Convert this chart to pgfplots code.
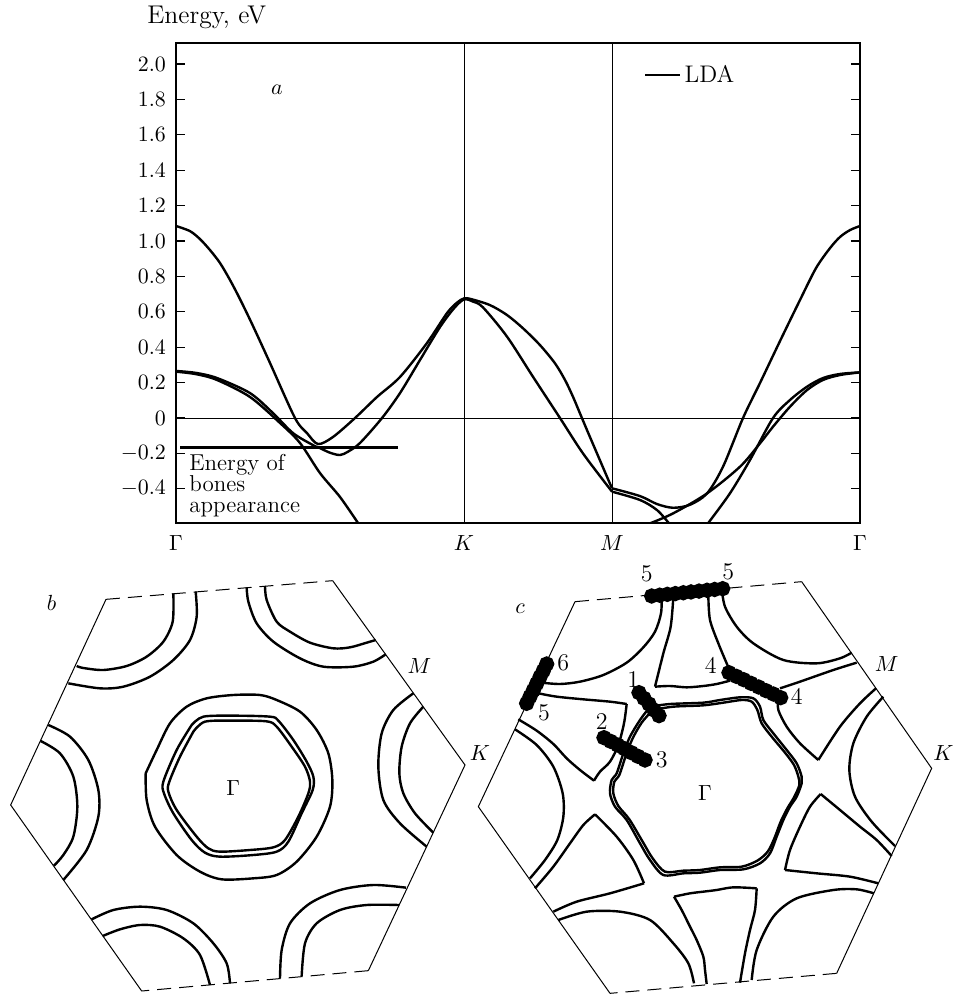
\documentclass[border=0pt]{standalone}
\usepackage{pgfplots}
\pgfplotsset{compat=1.18}
\pgfplotsset{
  band/.style={line width=1.2pt, smooth, tension=0.5, forget plot},
  fs/.style={line width=1.2pt, smooth, tension=0.5},
  hexs/.style={line width=0.5pt},
  hexd/.style={line width=0.5pt, dash pattern=on 7pt off 4pt},
  dots/.style={line width=2.6pt, mark=*, mark size=2.5pt},
}
\begin{document}
\begin{tikzpicture}
\path[use as bounding box] (0,0) rectangle (476.5pt,497pt);
\node[anchor=west, inner sep=0pt, font=\fontsize{12.8}{14}\selectfont] at (73.5pt,488.5pt) {Energy, eV};

% ---------------- band structure ----------------
\begin{axis}[
  scale only axis, width=342pt, height=240pt,
  at={(88pt,235.5pt)}, anchor=south west,
  xmin=0, xmax=684, ymin=-0.593, ymax=2.119,
  xtick={0,288,436,684}, xticklabels={$\Gamma$,$K$,$M$,$\Gamma$},
  x tick style={draw=none},
  tick label style={font=\fontsize{11}{13}\selectfont},
  xticklabel style={yshift=-2.5pt},
  ytick={-0.4,-0.2,0,0.2,0.4,0.6,0.8,1.0,1.2,1.4,1.6,1.8,2.0},
  yticklabels={$-0.4$,$-0.2$,$0$,$0.2$,$0.4$,$0.6$,$0.8$,$1.0$,$1.2$,$1.4$,$1.6$,$1.8$,$2.0$},
  yticklabel style={xshift=-1.5pt},
  axis line style={line width=0.55pt},
  every tick/.style={line width=0.55pt},
  legend style={draw=none, fill=none, at={(0.675,0.933)}, anchor=west, font=\fontsize{12}{14}\selectfont},
  legend cell align=left,
]
\addplot[line width=1.2pt, smooth, tension=0.5] coordinates {(0,1.085) (14,1.056) (24,1.011) (34,0.949) (44,0.876) (54,0.78) (64,0.672) (77,0.52) (94,0.311) (119,0) (131,-0.085) (142,-0.147) (157,-0.107) (179,0) (201,0.119) (224,0.232) (251,0.424) (271,0.593) (281,0.652) (288,0.676) (295,0.672) (314,0.638) (331,0.582) (347,0.507) (364,0.412) (379,0.309) (389,0.215) (397,0.12) (404,0.026) (411,-0.068) (421,-0.2) (431,-0.332) (436,-0.397)};
\addlegendentry{LDA}
\addplot[band] coordinates {(0,0.266) (20,0.255) (41,0.226) (74,0.141) (97,0.028) (117,-0.085) (137,-0.153) (144,-0.17) (154,-0.196) (164,-0.209) (172,-0.19) (184,-0.141) (206,0) (224,0.141) (244,0.328) (264,0.514) (278,0.62) (288,0.67) (297,0.658) (307,0.625) (331,0.46) (357,0.233) (384,0) (407,-0.2) (436,-0.416)};
\addplot[band] coordinates {(0,0.262) (20,0.248) (41,0.215) (74,0.119) (104,-0.028) (124,-0.141) (144,-0.311) (164,-0.446) (182,-0.593)};
\addplot[band] coordinates {(436,-0.397) (464,-0.441) (481,-0.486) (497,-0.507) (514,-0.49) (531,-0.426) (547,-0.275) (567,0) (584,0.198) (604,0.435) (624,0.667) (640,0.847) (654,0.96) (664,1.023) (674,1.062) (684,1.085)};
\addplot[band] coordinates {(474,-0.595) (497,-0.539) (531,-0.426) (564,-0.275) (584,-0.143) (597,-0.049) (614,0.064) (631,0.158) (647,0.215) (664,0.243) (684,0.258)};
\addplot[band] coordinates {(532,-0.595) (554,-0.425) (574,-0.237) (597,0) (614,0.102) (631,0.177) (647,0.226) (664,0.249) (684,0.258)};
\addplot[band] coordinates {(436,-0.416) (464,-0.463) (481,-0.52) (493,-0.595)};
% reference lines
\addplot[line width=0.5pt, forget plot] coordinates {(288,-0.593) (288,2.119)};
\addplot[line width=0.5pt, forget plot] coordinates {(436,-0.593) (436,2.119)};
\addplot[line width=0.5pt, forget plot] coordinates {(0,0) (684,0)};
% bones energy
\addplot[line width=1.3pt, forget plot] coordinates {(4,-0.165) (222,-0.165)};
\node[anchor=north west, align=left, inner sep=0pt, font=\fontsize{11.5}{10.4}\selectfont] at (axis cs:13,-0.205) {Energy of\\bones\\appearance};
\node[font=\fontsize{11}{13}\selectfont] at (axis cs:101,1.853) {$a$};
\end{axis}

% ---------------- hexagon b ----------------
\begin{axis}[
  hide axis, scale only axis, clip=false,
  at={(0pt,0pt)}, anchor=south west, width=240pt, height=217pt,
  xmin=0, xmax=1440, ymin=0, ymax=1302, y dir=reverse,
]
\addplot[hexs] coordinates {(998,62) (1395,615) (1105,1232)};
\addplot[hexs] coordinates {(425,1293) (32,735) (318,118)};
\addplot[hexd] coordinates {(318,118) (998,62)};
\addplot[hexd] coordinates {(1105,1232) (425,1293)};
% central rings
\addplot[fs] coordinates {(437,640) (440,720) (465,800) (530,885) (600,935) (665,958) (760,955) (830,945) (890,905) (950,830) (990,740) (997,660) (985,580) (950,510) (900,455) (830,420) (780,405) (700,405) (620,415) (560,440) (510,490) (470,570) (437,640)};
\addplot[fs] coordinates {(575,495) (610,470) (700,467) (810,470) (835,482) (880,540) (920,605) (940,650) (938,690) (905,760) (865,845) (830,875) (760,885) (660,890) (615,878) (575,840) (520,760) (492,700) (490,665) (530,570) (575,495)};
\addplot[fs] coordinates {(580,515) (615,485) (700,482) (800,484) (830,500) (875,560) (915,620) (930,665) (925,700) (895,770) (855,840) (820,862) (750,870) (660,875) (625,865) (590,830) (530,750) (505,695) (508,665) (540,590) (580,515)};
% corner arcs
\addplot[fs] coordinates {(520,100) (518,185) (490,245) (440,290) (380,318) (310,330) (250,324) (230,318)};
\addplot[fs] coordinates {(587,95) (590,170) (570,240) (520,300) (450,350) (370,380) (300,385) (205,370)};
\addplot[fs] coordinates {(795,78) (800,120) (830,185) (870,215) (930,248) (1000,265) (1050,262) (1100,248) (1127,240)};
\addplot[fs] coordinates {(740,82) (745,125) (770,190) (820,245) (900,295) (970,320) (1060,320) (1120,305) (1157,283)};
\addplot[fs] coordinates {(1270,440) (1230,490) (1205,560) (1198,640) (1210,700) (1245,760) (1300,818)};
\addplot[fs] coordinates {(1240,400) (1180,450) (1145,520) (1135,620) (1150,720) (1200,790) (1280,860)};
\addplot[fs] coordinates {(122,543) (180,580) (220,650) (232,740) (220,830) (190,885) (162,917)};
\addplot[fs] coordinates {(145,495) (210,530) (265,600) (295,690) (295,770) (260,870) (190,960)};
\addplot[fs] coordinates {(308,1128) (360,1108) (420,1095) (480,1100) (550,1135) (600,1185) (630,1275)};
\addplot[fs] coordinates {(275,1078) (340,1050) (420,1040) (500,1050) (580,1090) (640,1150) (680,1210) (690,1270)};
\addplot[fs] coordinates {(1197,1035) (1100,1035) (1020,1050) (950,1090) (915,1150) (905,1248)};
\addplot[fs] coordinates {(1218,983) (1120,975) (1020,990) (930,1030) (870,1090) (845,1170) (840,1255)};
\node[font=\fontsize{11}{13}\selectfont] at (axis cs:155,130) {$b$};
\node[font=\fontsize{11}{13}\selectfont] at (axis cs:1258,318) {$M$};
\node[font=\fontsize{11}{13}\selectfont] at (axis cs:1440,579) {$K$};
\node[font=\fontsize{11}{13}\selectfont] at (axis cs:700,685) {$\Gamma$};
\end{axis}

% ---------------- hexagon c ----------------
\begin{axis}[
  hide axis, scale only axis, clip=false,
  at={(235pt,0pt)}, anchor=south west, width=241.5pt, height=217pt,
  xmin=0, xmax=1449, ymin=0, ymax=1302, y dir=reverse,
]
\addplot[hexs] coordinates {(995,65) (1385,625) (1100,1240)};
\addplot[hexs] coordinates {(420,1300) (25,740) (315,125)};
\addplot[hexd] coordinates {(315,125) (995,65)};
\addplot[hexd] coordinates {(1100,1240) (420,1300)};
% contours
\addplot[fs] coordinates {(575,108) (573,160) (555,215) (520,262) (470,308) (400,345) (330,365) (270,372) (215,368)};
\addplot[fs] coordinates {(205,400) (260,410) (340,418) (420,425) (470,432)};
\addplot[fs] coordinates {(470,432) (462,490) (445,555) (420,605) (390,635) (372,662)};
\addplot[fs] coordinates {(372,662) (330,630) (290,595) (250,552) (200,512) (145,478)};
\addplot[fs] coordinates {(135,508) (200,555) (250,620) (278,700) (280,770) (262,840) (225,900) (180,955)};
\addplot[fs] coordinates {(195,985) (250,920) (300,850) (340,795) (375,763)};
\addplot[fs] coordinates {(375,763) (440,830) (490,900) (522,970)};
\addplot[fs] coordinates {(522,970) (420,1000) (320,1025) (250,1055)};
\addplot[fs] coordinates {(265,1080) (350,1055) (450,1055) (540,1080) (610,1150) (655,1210) (672,1270)};
\addplot[fs] coordinates {(710,1272) (705,1230) (700,1190) (680,1140) (660,1100) (635,1050) (612,1010)};
\addplot[fs] coordinates {(612,1010) (660,1000) (700,995) (740,990) (790,982) (860,985)};
\addplot[fs] coordinates {(860,985) (855,1050) (840,1110) (825,1180) (810,1268)};
\addplot[fs] coordinates {(845,1260) (860,1170) (910,1070) (980,1015) (1090,990) (1160,988) (1212,1000)};
\addplot[fs] coordinates {(1225,970) (1140,950) (1040,940) (945,930)};
\addplot[fs] coordinates {(945,930) (960,870) (990,800) (1020,740) (1052,702)};
\addplot[fs] coordinates {(1052,702) (1110,750) (1170,800) (1220,840) (1265,888)};
\addplot[fs] coordinates {(1240,410) (1190,470) (1150,550) (1138,630) (1155,710) (1205,785) (1275,858)};
\addplot[fs] coordinates {(1218,385) (1170,430) (1110,500) (1045,600)};
\addplot[fs] coordinates {(1045,600) (990,550) (950,500) (925,450) (925,418)};
\addplot[fs] coordinates {(930,385) (990,365) (1090,330) (1160,308)};
\addplot[fs] coordinates {(755,85) (765,140) (800,200) (850,250) (940,300) (1040,310) (1110,295) (1145,278)};
\addplot[fs] coordinates {(610,110) (602,200) (580,280) (555,380)};
\addplot[fs] coordinates {(555,380) (600,378) (650,382) (700,378) (740,372) (780,362)};
\addplot[fs] coordinates {(715,108) (720,180) (745,250) (770,310) (782,338)};
% central double ring
\addplot[fs] coordinates {(540,440) (600,432) (700,428) (750,420) (810,412) (850,415) (870,440) (880,480) (910,520) (950,570) (980,610) (995,650) (995,670) (980,710) (960,740) (940,780) (920,830) (900,880) (870,910) (820,928) (750,930) (690,938) (640,940) (580,945) (540,900) (510,850) (470,780) (435,740) (420,700) (425,660) (440,640) (460,580) (480,530) (510,480) (540,440)};
\addplot[fs] coordinates {(548,450) (610,440) (700,436) (760,428) (815,420) (845,425) (862,450) (875,490) (905,530) (945,578) (972,615) (985,650) (988,675) (972,712) (952,745) (932,785) (913,835) (893,875) (862,902) (815,920) (750,922) (690,930) (640,932) (585,935) (548,895) (518,845) (478,778) (445,738) (430,700) (433,665) (448,645) (468,585) (488,535) (515,488) (548,450)};
% dotted markers
\addplot[dots] coordinates {(545,108) (569,105.6) (592,103) (616,100.7) (640,98.2) (663,95.8) (687,93.3) (711,90.9) (734,88.4) (758,86)};
\addplot[dots] coordinates {(230,312) (220,332) (210,351) (200,371) (190,391) (180,410) (170,430)};
\addplot[dots] coordinates {(507,398) (522,415) (537,432) (552,450) (567,467)};
\addplot[dots] coordinates {(402,533) (422,544) (443,555) (463,566) (484,578) (504,589) (525,600)};
\addplot[dots] coordinates {(777,338) (799,349) (821,359) (843,370) (866,381) (888,392) (910,402) (932,413)};
\node[font=\fontsize{11}{13}\selectfont] at (axis cs:150,145) {$c$};
\node[font=\fontsize{11}{13}\selectfont] at (axis cs:1250,312) {$M$};
\node[font=\fontsize{11}{13}\selectfont] at (axis cs:1420,578) {$K$};
\node[font=\fontsize{11}{13}\selectfont] at (axis cs:705,700) {$\Gamma$};
\node[font=\large] at (axis cs:530,42) {5};
\node[font=\large] at (axis cs:775,35) {5};
\node[font=\large] at (axis cs:280,308) {6};
\node[font=\large] at (axis cs:222,458) {5};
\node[font=\large] at (axis cs:490,360) {1};
\node[font=\large] at (axis cs:395,485) {2};
\node[font=\large] at (axis cs:575,598) {3};
\node[font=\large] at (axis cs:722,315) {4};
\node[font=\large] at (axis cs:980,410) {4};
\end{axis}
\end{tikzpicture}
\end{document}
